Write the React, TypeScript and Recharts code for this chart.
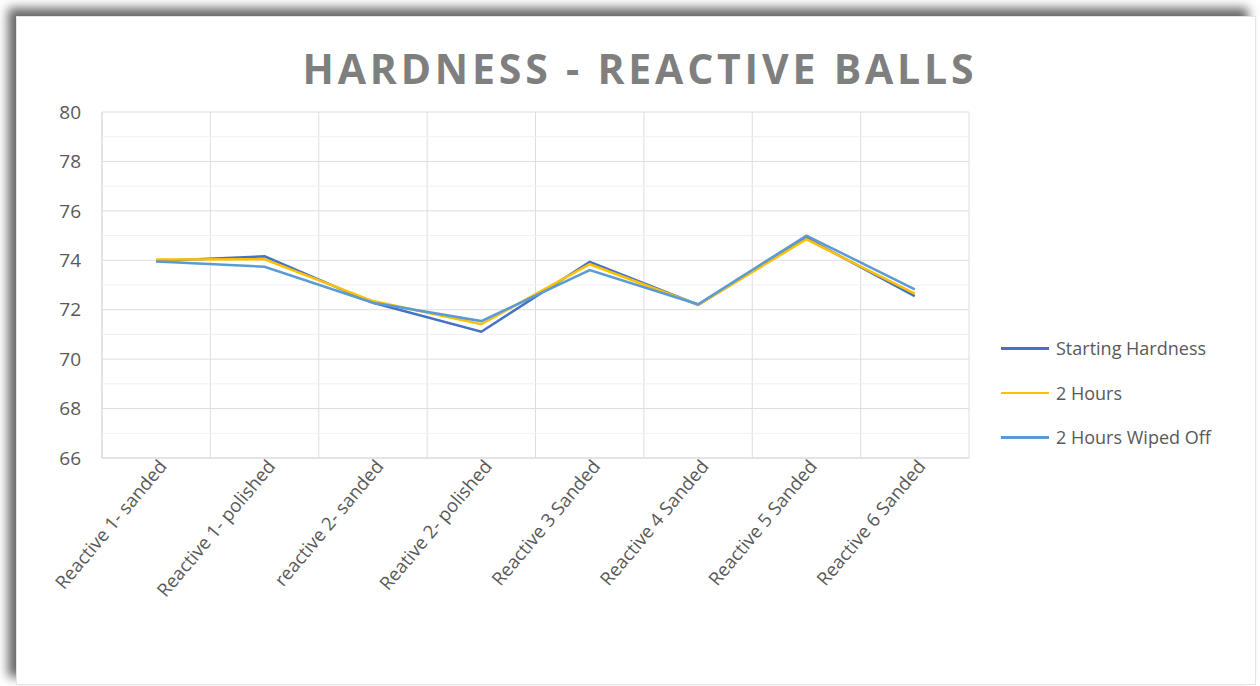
import React from 'react';
import {
    LineChart,
    Line,
    XAxis,
    YAxis,
    CartesianGrid,
    ReferenceLine,
    Legend,
} from 'recharts';

const categories = [
    'Reactive 1- sanded',
    'Reactive 1- polished',
    'reactive 2- sanded',
    'Reative 2- polished',
    'Reactive 3 Sanded',
    'Reactive 4 Sanded',
    'Reactive 5 Sanded',
    'Reactive 6 Sanded',
];

const startingHardness = [73.97, 74.16, 72.28, 71.11, 73.93, 72.2, 74.9, 72.55];
const twoHours = [74.03, 74.04, 72.35, 71.41, 73.84, 72.2, 74.85, 72.65];
const twoHoursWipedOff = [73.95, 73.74, 72.28, 71.54, 73.6, 72.22, 75.0, 72.82];

const yTicks = [66, 68, 70, 72, 74, 76, 78, 80];
const yMinorTicks = [67, 69, 71, 73, 75, 77, 79];

const series = [
    { key: 'start', name: 'Starting Hardness', color: '#4472C4' },
    { key: 'twoHours', name: '2 Hours', color: '#FFC000' },
    { key: 'wiped', name: '2 Hours Wiped Off', color: '#5B9BD5' },
];

const data = categories.map((name, i) => ({
    name,
    start: startingHardness[i],
    twoHours: twoHours[i],
    wiped: twoHoursWipedOff[i],
}));

const CHART_W = 1238;
const CHART_H = 667;
const PLOT_W = 867;
const LEGEND_W = 250;
const FONT = '"Open Sans", "Noto Sans", sans-serif';
const TEXT = '#595959';

// vertical grid lines sit between categories, not through the points
const categoryBoundaries = ({ offset }: any) =>
    [...categories.map((_, i) => i), categories.length].map(
        (i) => offset.left + (i * offset.width) / categories.length
    );

function CategoryTick({ x, y, payload }: any) {
    return (
        <g transform={`translate(${x + 7},${y - 3})`}>
            <text
                x={0}
                y={0}
                dy={6}
                textAnchor="end"
                transform="rotate(-50)"
                fontSize={18.5}
                fontFamily={FONT}
                fill={TEXT}
            >
                {payload.value}
            </text>
        </g>
    );
}

function LegendBox() {
    return (
        <div style={{ fontFamily: FONT, fontSize: 18, color: TEXT }}>
            {series.map((s) => (
                <div key={s.key} style={{ display: 'flex', alignItems: 'center', height: 44.5 }}>
                    <span style={{ display: 'inline-block', width: 48, height: 2.5, background: s.color, marginRight: 7 }} />
                    <span>{s.name}</span>
                </div>
            ))}
        </div>
    );
}

export default function App() {
    return (
        <div style={{ position: 'relative', width: 1260, height: 686, background: '#fff', overflow: 'hidden' }}>
            <style>{'body{margin:0}'}</style>
            <div
                style={{
                    position: 'absolute',
                    left: 16,
                    top: 16,
                    width: CHART_W,
                    height: CHART_H,
                    background: '#fff',
                    border: '1px solid #e4e4e4',
                    boxShadow: '-8px -8px 10px rgba(0,0,0,0.6)',
                }}
            >
                <div
                    style={{
                        position: 'absolute',
                        left: 0,
                        width: CHART_W,
                        top: 26,
                        paddingLeft: 4,
                        textAlign: 'center',
                        fontFamily: FONT,
                        fontWeight: 700,
                        fontSize: 41,
                        letterSpacing: 3.8,
                        color: '#7f7f7f',
                        lineHeight: '50px',
                    }}
                >
                    HARDNESS - REACTIVE BALLS
                </div>
                <LineChart
                    width={CHART_W}
                    height={CHART_H}
                    data={data}
                    margin={{ top: 95, right: 286 - LEGEND_W, left: 35, bottom: 76 }}
                >
                    <CartesianGrid stroke="#dedede" strokeWidth={1} verticalCoordinatesGenerator={categoryBoundaries} />
                    {yMinorTicks.map((v) => (
                        <ReferenceLine key={v} y={v} stroke="#f0f0f0" strokeWidth={1} ifOverflow="extendDomain" />
                    ))}
                    <XAxis
                        dataKey="name"
                        interval={0}
                        height={150}
                        padding={{ left: PLOT_W / (2 * categories.length), right: PLOT_W / (2 * categories.length) }}
                        axisLine={{ stroke: '#d9d9d9' }}
                        tickLine={false}
                        tick={<CategoryTick />}
                    />
                    <YAxis
                        width={50}
                        domain={[66, 80]}
                        ticks={yTicks}
                        interval={0}
                        axisLine={{ stroke: '#d9d9d9' }}
                        tickLine={false}
                        tickSize={0}
                        tickMargin={21}
                        tick={{ fontSize: 19, fontFamily: FONT, fill: TEXT }}
                    />
                    <Legend
                        layout="vertical"
                        align="right"
                        verticalAlign="top"
                        content={<LegendBox />}
                        wrapperStyle={{ left: 984, top: 309, width: LEGEND_W }}
                    />
                    {series.map((s) => (
                        <Line
                            key={s.key}
                            type="linear"
                            dataKey={s.key}
                            name={s.name}
                            stroke={s.color}
                            strokeWidth={2.5}
                            dot={false}
                            activeDot={false}
                            isAnimationActive={false}
                        />
                    ))}
                </LineChart>
            </div>
        </div>
    );
}
